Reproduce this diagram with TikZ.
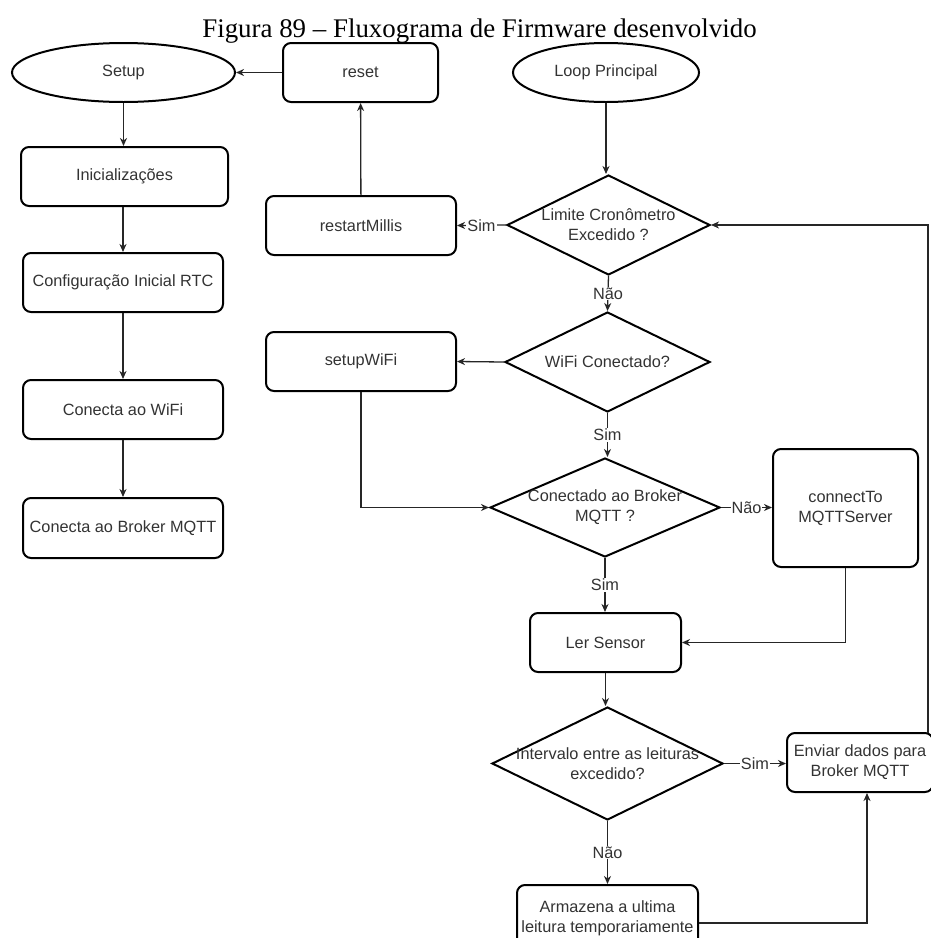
\documentclass[tikz,border=0pt]{standalone}
\usepackage{fontspec}
\setmainfont{Liberation Sans}
\newfontfamily\titlefont{Liberation Serif}
\usetikzlibrary{shapes.geometric,arrows.meta}
\begin{document}
\begin{tikzpicture}[x=1pt,y=-1pt,
  every node/.style={font=\fontsize{16.3}{20}\selectfont, text=black!80},
  proc/.style={draw=black, line width=2pt, rounded corners=8pt, inner sep=0pt, align=center},
  term/.style={draw=black, line width=2pt, ellipse, inner sep=0pt},
  decision/.style={draw=black, line width=2pt, diamond, inner sep=0pt},
  dtext/.style={align=center, inner sep=0pt},
  flow/.style={draw=black!85, line width=1.3pt, -{Stealth[length=8pt,width=7pt,inset=2.5pt]}},
  tag/.style={fill=white, inner sep=1pt}
]
\useasboundingbox (0,0) rectangle (931,938);

% title
\node[font=\titlefont\fontsize{26.9}{30}\selectfont, text=black, anchor=base, inner sep=0pt]
  (title) at (479.5,37) {Figura 89 – Fluxograma de Firmware desenvolvido};

% setup column
\node[term, minimum width=223, minimum height=59] (setup) at (123.5,72.5) {Setup};
\node[proc, minimum width=207, minimum height=59] (ini) at (124.5,176.5) {Inicializações};
\node[proc, minimum width=200, minimum height=59] (rtc) at (123,282.5) {Configuração Inicial RTC};
\node[proc, minimum width=200, minimum height=59] (cwifi) at (123,409.5) {Conecta ao WiFi};
\node[proc, minimum width=200, minimum height=60] (cbroker) at (123,528) {Conecta ao Broker MQTT};

% side actions
\node[proc, minimum width=155, minimum height=59] (reset) at (360.5,72.5) {reset};
\node[proc, minimum width=190, minimum height=59] (restart) at (361,225.5) {restartMillis};
\node[proc, minimum width=190, minimum height=59] (setupwifi) at (361,361.5) {setupWiFi};

% main loop
\node[term, minimum width=186, minimum height=59] (loop) at (606,72.5) {Loop Principal};

\node[decision, minimum width=203, minimum height=100] (limite) at (608.5,225) {};
\node[dtext] at (limite) {Limite Cronômetro\\Excedido ?};

\node[decision, minimum width=205, minimum height=100] (wifi) at (607.5,362) {};
\node[dtext] at (wifi) {WiFi Conectado?};

\node[decision, minimum width=230, minimum height=99] (broker) at (605,507.5) {};
\node[dtext] at (broker) {Conectado ao Broker\\MQTT ?};

\node[proc, minimum width=145, minimum height=118] (connect) at (845.5,508) {connectTo\\MQTTServer};

\node[proc, minimum width=151, minimum height=59] (ler) at (605.5,642.5) {Ler Sensor};

\node[decision, minimum width=231, minimum height=113] (intervalo) at (607.5,763.5) {};
\node[dtext] at (intervalo) {Intervalo entre as leituras\\excedido?};

\node[proc, minimum width=146, minimum height=59] (enviar) at (860,762.5) {Enviar dados para\\Broker MQTT};

\node[proc, minimum width=181, minimum height=66] (armazena) at (607.5,918) {Armazena a ultima\\leitura temporariamente};

\coordinate (ret) at (928,733);
\coordinate (back) at (867,923);

% connectors: setup column
\draw[flow] (reset) -- (setup);
\draw[flow] (setup.south) -- (setup.south |- ini.north);
\draw[flow] (ini.south -| rtc.north) -- (rtc.north);
\draw[flow] (rtc) -- (cwifi);
\draw[flow] (cwifi) -- (cbroker);

% connectors: main loop
\draw[flow] (loop) -- (loop.south |- limite.north);
\draw[flow] (restart) -- (reset);
\draw[flow] (limite.west) -- node[tag] {Sim} (restart.east);
\draw[flow] (limite.south) -- node[tag] {Não} (wifi.north);
\draw[flow] (wifi.west) -- (setupwifi.east);
\draw[flow] (setupwifi.south) |- (broker.west);
\draw[flow] (wifi.south) -- node[tag] {Sim} (wifi.south |- broker.north);
\draw[flow] (broker.east) -- node[tag] {Não} (broker.east -| connect.west);
\draw[flow] (connect.south) |- (ler.east);
\draw[flow] (broker.south) -- node[tag] {Sim} (broker.south |- ler.north);
\draw[flow] (ler.south) -- (ler.south |- intervalo.north);
\draw[flow] (intervalo.east) -- node[tag] {Sim} (intervalo.east -| enviar.west);
\draw[flow] (intervalo.south) -- node[tag] {Não} (intervalo.south |- armazena.north);
\draw[flow] (armazena.east |- back) -| (back |- enviar.south);
\draw[flow] (ret) |- (limite.east);
\end{tikzpicture}
\end{document}
